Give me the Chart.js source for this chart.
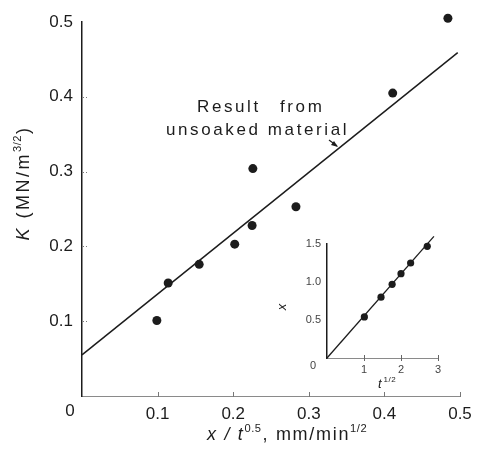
<!DOCTYPE html>
<html><head><meta charset="utf-8">
<script src="https://cdn.jsdelivr.net/npm/chart.js@4"></script>
<style>
html,body{margin:0;padding:0;background:#fff;}
#wrap{position:relative;width:480px;height:449px;}
canvas{position:absolute;left:0;top:0;}
</style></head>
<body><div id="wrap"><canvas id="main" width="480" height="449"></canvas><canvas id="inset" width="480" height="449"></canvas></div>
<script>
// Main plot data: K vs x/t^0.5
const mainX = [0.099, 0.114, 0.155, 0.202, 0.225, 0.226, 0.283, 0.411, 0.484];
const mainK = [0.101, 0.151, 0.176, 0.203, 0.228, 0.304, 0.253, 0.405, 0.505];
// Line "Result from unsoaked material"
const lineX = [0, 0.497];
const lineK = [0.055, 0.459];
const mainXTicks = [0, 0.1, 0.2, 0.3, 0.4, 0.5];
const mainYTicks = [0.1, 0.2, 0.3, 0.4, 0.5];
// Inset: x vs t^1/2
const insetT = [1.01, 1.46, 1.76, 2.0, 2.26, 2.71];
const insetX = [0.54, 0.80, 0.97, 1.11, 1.25, 1.47];
const insetLineT = [0, 2.89];
const insetLineX = [0, 1.6];
const insetXTicks = [0, 1, 2, 3];
const insetYTicks = [0.5, 1.0, 1.5];

const INK = '#1c1c1c';
const FONT = '"Liberation Sans", Arial, sans-serif';

function drawRich(ctx, parts, x, y, size, ls) {
  let cx = x;
  for (const p of parts) {
    const s = p.sup ? size * 0.62 : size;
    ctx.font = (p.italic ? 'italic ' : '') + s + 'px ' + FONT;
    ctx.letterSpacing = (p.sup ? 0.5 : (ls || 0)) + 'px';
    const dy = p.sup ? -size * 0.45 : 0;
    ctx.fillText(p.t, cx, y + dy);
    cx += ctx.measureText(p.t).width + (p.gap || 0);
  }
  ctx.letterSpacing = '0px';
  return cx - x;
}
function richWidth(ctx, parts, size, ls) {
  let w = 0;
  for (const p of parts) {
    const s = p.sup ? size * 0.62 : size;
    ctx.font = (p.italic ? 'italic ' : '') + s + 'px ' + FONT;
    ctx.letterSpacing = (p.sup ? 0.5 : (ls || 0)) + 'px';
    w += ctx.measureText(p.t).width + (p.gap || 0);
  }
  ctx.letterSpacing = '0px';
  return w;
}

const mainDecor = {
  id: 'mainDecor',
  afterDraw(chart) {
    const ctx = chart.ctx;
    const xs = chart.scales.x, ys = chart.scales.y;
    ctx.save();
    // small tick marks
    ctx.strokeStyle = '#777'; ctx.lineWidth = 1;
    for (const v of mainXTicks.slice(1)) {
      const px = Math.round(xs.getPixelForValue(v)) + 0.5;
      ctx.beginPath(); ctx.moveTo(px, ys.bottom - 4); ctx.lineTo(px, ys.bottom + 1); ctx.stroke();
    }
    ctx.setLineDash([1, 2]);
    for (const v of mainYTicks.slice(0, 4)) {
      const py = Math.round(ys.getPixelForValue(v)) + 0.5;
      ctx.beginPath(); ctx.moveTo(xs.left + 1, py); ctx.lineTo(xs.left + 6, py); ctx.stroke();
    }
    ctx.setLineDash([]);
    ctx.fillStyle = INK;
    ctx.textBaseline = 'alphabetic';
    // origin "0"
    ctx.font = '17px ' + FONT;
    ctx.textAlign = 'center';
    ctx.fillText('0', xs.getPixelForValue(0) - 12, 416);
    ctx.textAlign = 'left';
    // x axis title
    const xt = [{t:'x / t', italic:true},{t:'0.5', sup:true, gap:1},{t:', mm/min'},{t:'1/2', sup:true}];
    drawRich(ctx, xt, 207, 440, 18, 1.7);
    // y axis title rotated
    const yt = [{t:'K', italic:true},{t:' (MN/m'},{t:'3/2', sup:true, gap:1},{t:')'}];
    const w = richWidth(ctx, yt, 18, 2.5);
    ctx.save();
    ctx.translate(29, 183);
    ctx.rotate(-Math.PI/2);
    drawRich(ctx, yt, -w/2, 0, 18, 2.5);
    ctx.restore();
    // annotation
    ctx.font = '17px ' + FONT;
    ctx.letterSpacing = '2.6px';
    ctx.fillText('Result', 197, 112);
    ctx.fillText('from', 280, 112);
    ctx.fillText('unsoaked material', 166, 135);
    ctx.letterSpacing = '0px';
    // arrow head
    ctx.beginPath();
    ctx.moveTo(329, 140);
    ctx.lineTo(337, 146);
    ctx.strokeStyle = INK; ctx.lineWidth = 1.2; ctx.stroke();
    ctx.beginPath();
    ctx.moveTo(338, 147); ctx.lineTo(331, 145); ctx.lineTo(334, 141); ctx.closePath();
    ctx.fill();
    ctx.restore();
  }
};

new Chart(document.getElementById('main'), {
  type: 'scatter',
  data: {
    datasets: [
      { data: mainX.map((v,i)=>({x:v, y:mainK[i]})), pointRadius: 4.5, pointBackgroundColor: INK, pointBorderColor: INK, borderWidth: 0, clip: false },
      { type: 'line', data: lineX.map((v,i)=>({x:v, y:lineK[i]})), borderColor: INK, borderWidth: 1.5, pointRadius: 0, fill: false, clip: false }
    ]
  },
  options: {
    responsive: false, animation: false, devicePixelRatio: 1,
    layout: { padding: { left: 0, top: 22, right: 20, bottom: 0 } },
    plugins: { legend: { display: false }, tooltip: { enabled: false } },
    scales: {
      x: {
        type: 'linear', min: 0, max: 0.5,
        afterFit(s){ s.height = 53; },
        afterBuildTicks(s){ s.ticks = mainXTicks.map(v=>({value:v})); },
        grid: { display: false, drawTicks: false },
        border: { display: true, color: '#8a8a8a', width: 1, dash: [5, 3] },
        ticks: { padding: 8, color: INK, font: { family: FONT, size: 17 },
          callback: v => v === 0 ? '' : v.toFixed(1) }
      },
      y: {
        type: 'linear', min: 0, max: 0.5,
        afterFit(s){ s.width = 82; },
        afterBuildTicks(s){ s.ticks = mainYTicks.map(v=>({value:v})); },
        grid: { display: false, drawTicks: false },
        border: { display: true, color: INK, width: 1.5 },
        ticks: { padding: 9, color: INK, font: { family: FONT, size: 17 },
          callback: v => v.toFixed(1) }
      }
    }
  },
  plugins: [mainDecor]
});

const insetDecor = {
  id: 'insetDecor',
  afterDraw(chart) {
    const ctx = chart.ctx;
    const xs = chart.scales.x, ys = chart.scales.y;
    ctx.save();
    ctx.strokeStyle = '#666'; ctx.lineWidth = 1;
    for (const v of insetXTicks.slice(1)) {
      const px = Math.round(xs.getPixelForValue(v)) + 0.5;
      ctx.beginPath(); ctx.moveTo(px, ys.bottom - 3); ctx.lineTo(px, ys.bottom + 3); ctx.stroke();
    }
    ctx.fillStyle = '#444';
    ctx.font = '11px ' + FONT;
    ctx.textAlign = 'center';
    ctx.fillText('0', xs.getPixelForValue(0) - 14, 369);
    ctx.fillStyle = INK;
    ctx.textAlign = 'left';
    // x label (rotated)
    ctx.save();
    ctx.translate(286, 307);
    ctx.rotate(-Math.PI/2);
    ctx.font = 'italic 13px ' + FONT;
    ctx.textAlign = 'center';
    ctx.fillText('x', 0, 0);
    ctx.restore();
    // t^1/2
    drawRich(ctx, [{t:'t', italic:true, gap:2},{t:'1/2', sup:true}], 378, 388, 13, 0);
    ctx.restore();
  }
};

new Chart(document.getElementById('inset'), {
  type: 'scatter',
  data: {
    datasets: [
      { data: insetT.map((v,i)=>({x:v, y:insetX[i]})), pointRadius: 3.6, pointBackgroundColor: INK, pointBorderColor: INK, borderWidth: 0, clip: false },
      { type: 'line', data: insetLineT.map((v,i)=>({x:v, y:insetLineX[i]})), borderColor: INK, borderWidth: 1.3, pointRadius: 0, fill: false, clip: false }
    ]
  },
  options: {
    responsive: false, animation: false, devicePixelRatio: 1,
    layout: { padding: { left: 0, top: 244, right: 42, bottom: 0 } },
    plugins: { legend: { display: false }, tooltip: { enabled: false } },
    scales: {
      x: {
        type: 'linear', min: 0, max: 3,
        afterFit(s){ s.height = 91; },
        afterBuildTicks(s){ s.ticks = insetXTicks.map(v=>({value:v})); },
        grid: { display: false, drawTicks: false },
        border: { display: true, color: '#8a8a8a', width: 1, dash: [4, 2] },
        ticks: { padding: 5, color: '#444', font: { family: FONT, size: 11 },
          callback: v => v === 0 ? '' : String(v) }
      },
      y: {
        type: 'linear', min: 0, max: 1.5,
        afterFit(s){ s.width = 327; },
        afterBuildTicks(s){ s.ticks = insetYTicks.map(v=>({value:v})); },
        grid: { display: false, drawTicks: false },
        border: { display: true, color: INK, width: 1.5 },
        ticks: { padding: 6, color: '#444', font: { family: FONT, size: 11 },
          callback: v => v.toFixed(1) }
      }
    }
  },
  plugins: [insetDecor]
});
</script>
</body></html>
